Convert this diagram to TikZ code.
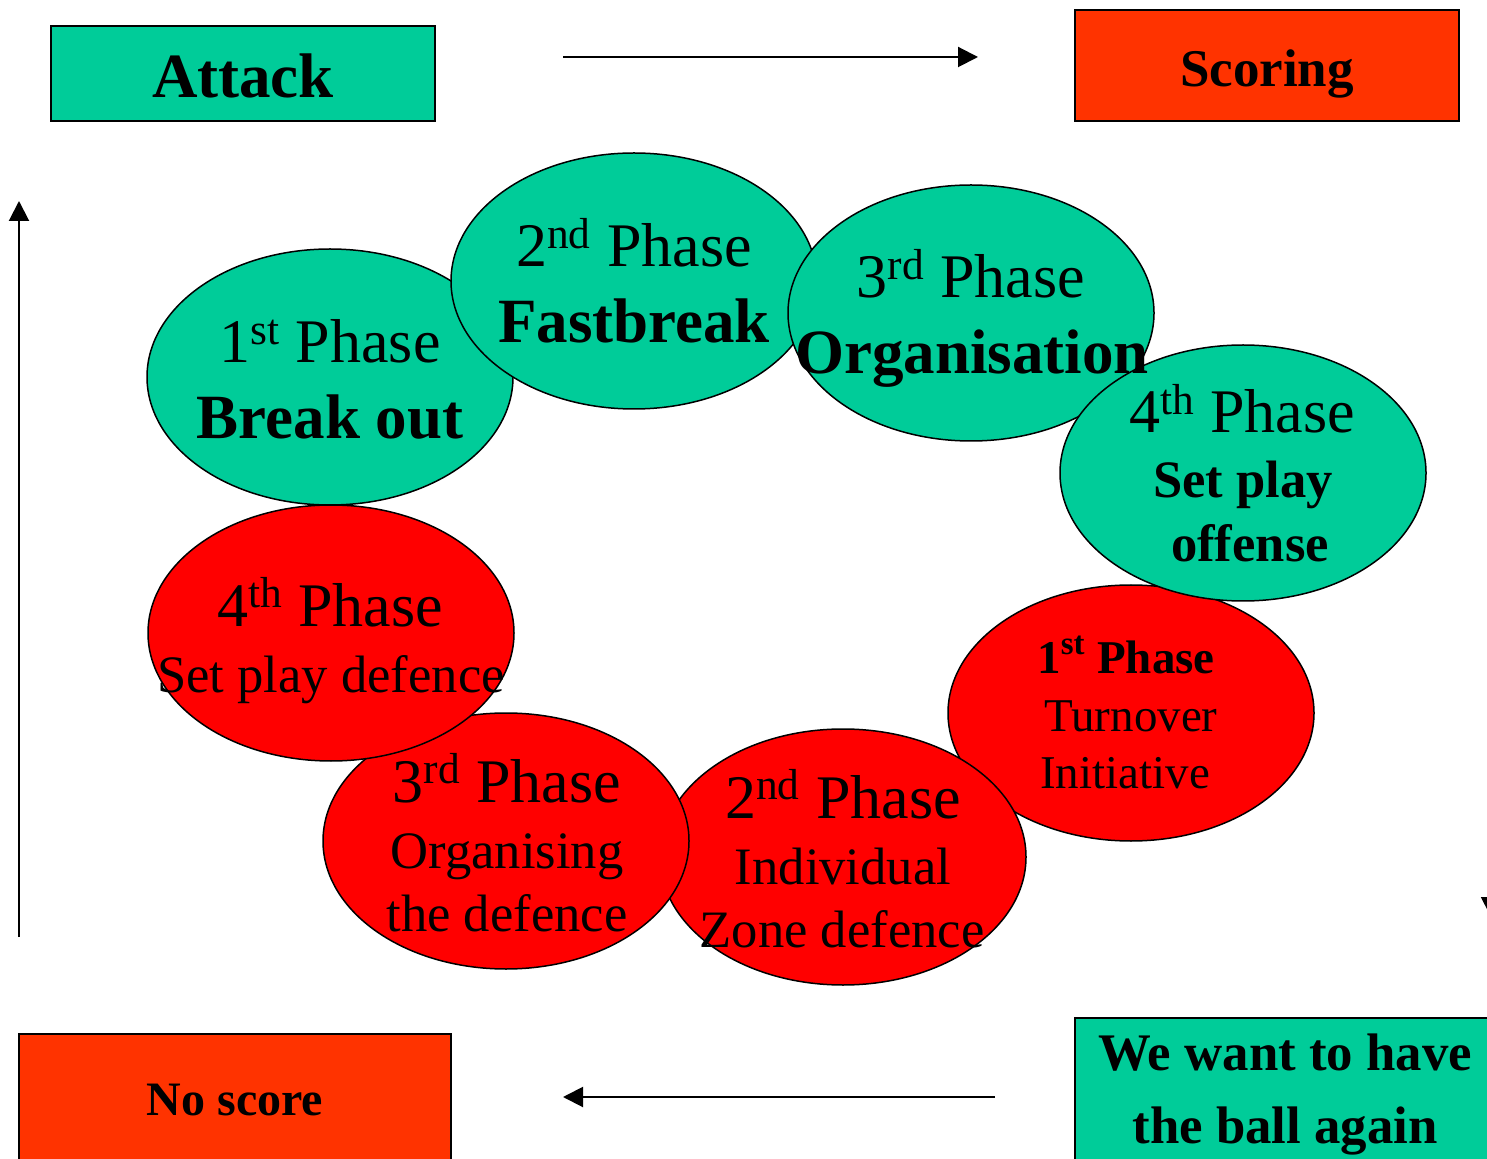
\documentclass[tikz,border=0pt]{standalone}
\usepackage{fontspec}
\setmainfont{Liberation Serif}
\usetikzlibrary{shapes.geometric,arrows.meta}

\definecolor{phasegreen}{HTML}{00CC99}
\definecolor{phasered}{HTML}{FF0000}
\definecolor{boxorange}{HTML}{FF3300}

% font sizes (1 unit = 0.5pt)
\newcommand\szbig{\fontsize{31}{37}\selectfont}
\newcommand\szbold{\fontsize{31.5}{38}\selectfont\bfseries}
\newcommand\szmid{\fontsize{26.3}{32}\selectfont}
\newcommand\szsmall{\fontsize{23.5}{28}\selectfont}

\begin{document}
\begin{tikzpicture}[x=0.5pt,y=-0.5pt,
  phase/.style={ellipse,draw=black,line width=0.75pt,
    minimum width=183pt,minimum height=128pt,inner sep=0pt},
  attackphase/.style={phase,fill=phasegreen},
  defencephase/.style={phase,fill=phasered},
  infobox/.style={rectangle,draw=black,line width=1pt,inner sep=0pt},
  txt/.style={anchor=base,inner sep=0pt,text=black},
  arr/.style={line width=1pt,-{Triangle[length=10pt,width=10pt]}}]

\useasboundingbox (0,0) rectangle (1487,1159);
\clip (0,0) rectangle (1487,1159);

% corner boxes
\node[infobox,fill=phasegreen,minimum width=192pt,minimum height=47.5pt] (attack) at (243,73.5) {};
\node[infobox,fill=boxorange,minimum width=192pt,minimum height=55.5pt] (scoring) at (1267,65.5) {};
\node[infobox,fill=boxorange,minimum width=216pt,minimum height=70pt] (noscore) at (235,1104) {};
\node[infobox,fill=phasegreen,minimum width=212pt,minimum height=90pt] (again) at (1287,1108) {};

\node[txt] (attackT) at (243,98) {\fontsize{31.5}{38}\selectfont\bfseries Attack};
\node[txt] (scoringT) at (1267,87) {\fontsize{26.5}{32}\selectfont\bfseries Scoring};
\node[txt] (noscoreT) at (235,1115) {\fontsize{24}{29}\selectfont\bfseries No score};
\node[txt] (againT1) at (1285,1070) {\fontsize{26.4}{32}\selectfont\bfseries We want to have};
\node[txt] (againT2) at (1285,1143) {\fontsize{26.4}{32}\selectfont\bfseries the ball again};

% arrows round the cycle
\coordinate (topA) at (563,57);
\coordinate (topB) at (978,57);
\coordinate (botA) at (995,1097);
\coordinate (botB) at (563,1097);
\coordinate (leftA) at (19,937);
\coordinate (leftB) at (19,201);
\coordinate (rightA) at (1491,200);
\coordinate (rightB) at (1491,917);
\draw[arr] (topA) -- (topB);
\draw[arr] (botA) -- (botB);
\draw[arr] (leftA) -- (leftB);
\draw[arr] (rightA) -- (rightB);

% defence phases
\node[defencephase] (r1) at (1131,713) {};
\node[defencephase] (r2) at (843,857) {};
\node[defencephase] (r3) at (506,841) {};
\node[defencephase] (r4) at (331,633) {};

% attack phases
\node[attackphase] (g1) at (330,377) {};
\node[attackphase] (g2) at (634,281) {};
\node[attackphase] (g3) at (971,313) {};
\node[attackphase] (g4) at (1243,473) {};

% attack phase labels
\node[txt] (g1a) at (330,363) {\szbig 1\textsuperscript{st} Phase};
\node[txt] (g1b) at (330,439) {\szbold Break out};
\node[txt] (g2a) at (634,267) {\szbig 2\textsuperscript{nd} Phase};
\node[txt] (g2b) at (634,343) {\szbold Fastbreak};
\node[txt] (g3a) at (971,298) {\szbig 3\textsuperscript{rd} Phase};
\node[txt] (g3b) at (972,374) {\szbold Organisation};
\node[txt] (g4a) at (1242,433) {\szbig 4\textsuperscript{th} Phase};
\node[txt] (g4b) at (1243,498) {\szmid\bfseries Set play};
\node[txt] (g4c) at (1250,562) {\szmid\bfseries offense};

% defence phase labels
\node[txt] (r1a) at (1126,673) {\szsmall\bfseries 1\textsuperscript{st} Phase};
\node[txt] (r1b) at (1131,731) {\szsmall Turnover};
\node[txt] (r1c) at (1125,788) {\szsmall Initiative};
\node[txt] (r2a) at (843,818) {\szbig 2\textsuperscript{nd} Phase};
\node[txt] (r2b) at (843,884) {\szmid Individual};
\node[txt] (r2c) at (842,947) {\szmid Zone defence};
\node[txt] (r3a) at (507,802) {\szbig 3\textsuperscript{rd} Phase};
\node[txt] (r3b) at (507,868) {\szmid Organising};
\node[txt] (r3c) at (507,931) {\szmid the defence};
\node[txt] (r4a) at (330,626) {\szbig 4\textsuperscript{th} Phase};
\node[txt] (r4b) at (331,692) {\szmid Set play defence};

\end{tikzpicture}
\end{document}
